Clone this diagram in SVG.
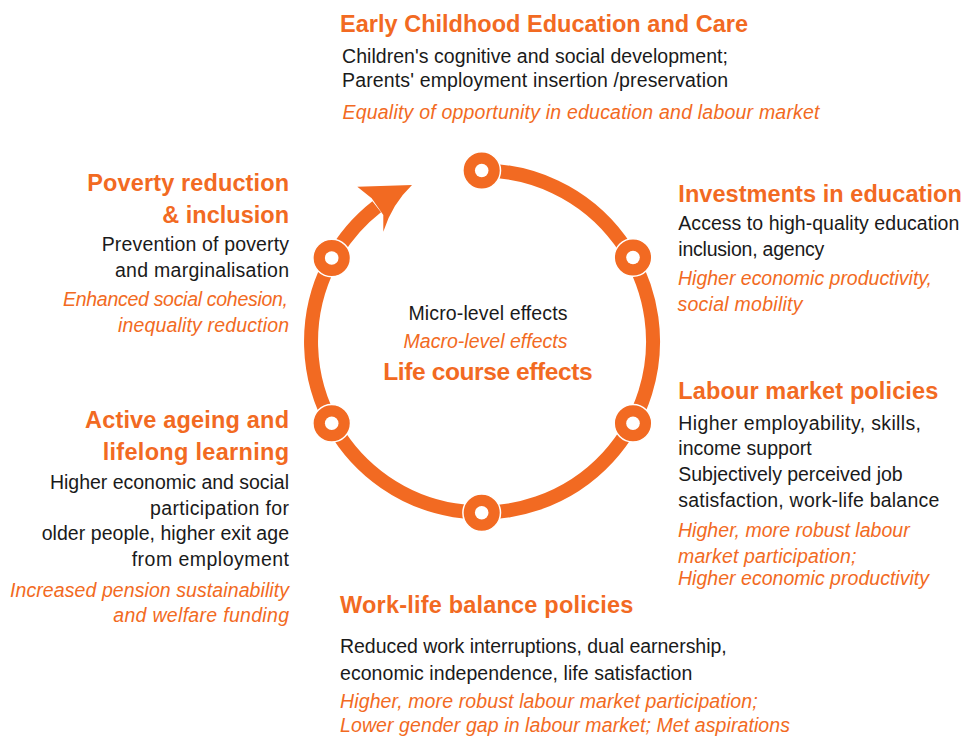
<svg xmlns="http://www.w3.org/2000/svg" width="963" height="737" viewBox="0 0 963 737">
<style>
text{font-family:"Liberation Sans",Arial,sans-serif;}
.h{font-size:23.5px;font-weight:bold;fill:#F26A22;}
.b{font-size:19.5px;fill:#1a1a1a;}
.i{font-size:19.5px;font-style:italic;fill:#F26A22;}
.e{text-anchor:end;}
.m{text-anchor:middle;}
.ring{fill:none;stroke:#F26A22;stroke-width:14;}
.node{fill:#F26A22;stroke:#ffffff;stroke-width:1.5;}
.hole{fill:#ffffff;}
</style>
<rect width="963" height="737" fill="#ffffff"/>
<g id="connectors">
<path class="ring" d="M 482 170.5 A 171 171 0 1 1 376.7 206.8"/>
<path fill="#F26A22" d="M412 185 L357.3 186.7 L371.7 198.3 L383.3 215 L383.3 231.7 Q392 204 412 185 Z"/>
</g>
<g id="ecec">
<circle class="node" cx="481.7" cy="170.5" r="18.8"/><circle class="hole" cx="481.7" cy="170.5" r="6.8"/>
<text class="h" x="340" y="31.5" textLength="408">Early Childhood Education and Care</text>
<text class="b" x="342" y="63" textLength="386">Children's cognitive and social development;</text>
<text class="b" x="342" y="87" textLength="386">Parents' employment insertion /preservation</text>
<text class="i" x="342.5" y="119" textLength="477">Equality of opportunity in education and labour market</text>
</g>
<g id="investments">
<circle class="node" cx="633" cy="257.5" r="18.8"/><circle class="hole" cx="633" cy="257.5" r="6.8"/>
<text class="h" x="678.3" y="202" textLength="283.5">Investments in education</text>
<text class="b" x="678.3" y="230" textLength="281">Access to high-quality education</text>
<text class="b" x="678.3" y="256" textLength="146">inclusion, agency</text>
<text class="i" x="678" y="285" textLength="254">Higher economic productivity,</text>
<text class="i" x="677.5" y="310.5" textLength="125">social mobility</text>
</g>
<g id="labour">
<circle class="node" cx="633" cy="423.3" r="18.8"/><circle class="hole" cx="633" cy="423.3" r="6.8"/>
<text class="h" x="678.3" y="399.3" textLength="260">Labour market policies</text>
<text class="b" x="678.3" y="430" textLength="242.7">Higher employability, skills,</text>
<text class="b" x="678.3" y="455" textLength="133.4">income support</text>
<text class="b" x="678.3" y="481" textLength="224.4">Subjectively perceived job</text>
<text class="b" x="678.3" y="506.7" textLength="261">satisfaction, work-life balance</text>
<text class="i" x="678" y="536.7" textLength="231.7">Higher, more robust labour</text>
<text class="i" x="678" y="562.7" textLength="178.4">market participation;</text>
<text class="i" x="678" y="585" textLength="251">Higher economic productivity</text>
</g>
<g id="worklife">
<circle class="node" cx="481.7" cy="512.7" r="18.8"/><circle class="hole" cx="481.7" cy="512.7" r="6.8"/>
<text class="h" x="340" y="613.3" textLength="293.3">Work-life balance policies</text>
<text class="b" x="340" y="653.3" textLength="386.7">Reduced work interruptions, dual earnership,</text>
<text class="b" x="340" y="680" textLength="352.3">economic independence, life satisfaction</text>
<text class="i" x="340" y="707.7" textLength="417.7">Higher, more robust labour market participation;</text>
<text class="i" x="340" y="732.3" textLength="450">Lower gender gap in labour market; Met aspirations</text>
</g>
<g id="ageing">
<circle class="node" cx="331.7" cy="423.3" r="18.8"/><circle class="hole" cx="331.7" cy="423.3" r="6.8"/>
<text class="h e" x="289" y="428.3" textLength="204">Active ageing and</text>
<text class="h e" x="289" y="460" textLength="186.3">lifelong learning</text>
<text class="b e" x="289" y="489.3" textLength="239">Higher economic and social</text>
<text class="b e" x="289" y="515" textLength="139">participation for</text>
<text class="b e" x="289" y="540" textLength="247.3">older people, higher exit age</text>
<text class="b e" x="289" y="565.7" textLength="157.3">from employment</text>
<text class="i e" x="289" y="596.7" textLength="279">Increased pension sustainability</text>
<text class="i e" x="289" y="622.3" textLength="175.7">and welfare funding</text>
</g>
<g id="poverty">
<circle class="node" cx="331.7" cy="258" r="18.8"/><circle class="hole" cx="331.7" cy="258" r="6.8"/>
<text class="h e" x="289" y="190.7" textLength="201.7">Poverty reduction</text>
<text class="h e" x="289" y="223.3" textLength="126.7">&amp; inclusion</text>
<text class="b e" x="289" y="250.7" textLength="187.3">Prevention of poverty</text>
<text class="b e" x="289" y="277.3" textLength="174">and marginalisation</text>
<text class="i e" x="288" y="306" textLength="225">Enhanced social cohesion,</text>
<text class="i e" x="289" y="331.7" textLength="171">inequality reduction</text>
</g>
<g id="center">
<text class="b m" x="488" y="320" textLength="159">Micro-level effects</text>
<text class="i m" x="485.5" y="348.3" textLength="164">Macro-level effects</text>
<text class="h m" x="488" y="380" style="font-size:24.5px" textLength="209.4">Life course effects</text>
</g>
</svg>
